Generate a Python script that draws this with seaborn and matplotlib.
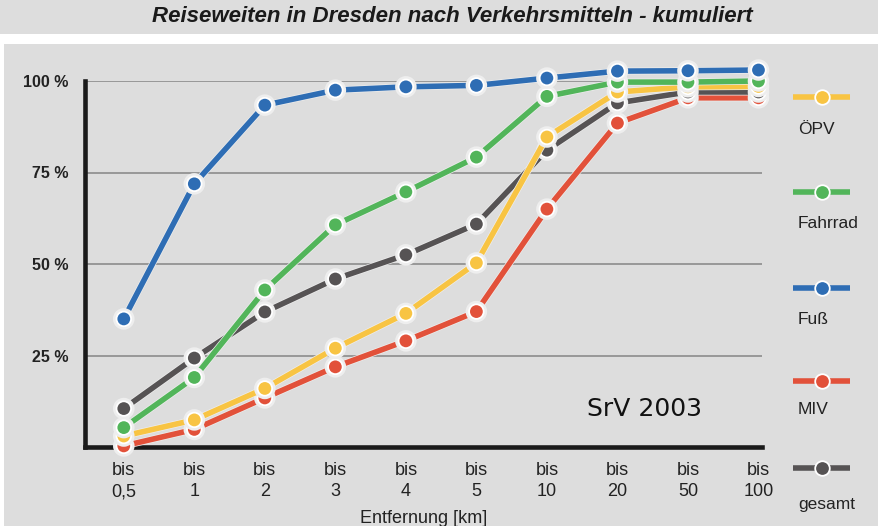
import numpy as np
import pandas as pd
import matplotlib
matplotlib.use("Agg")
import matplotlib.pyplot as plt
import seaborn as sns
from matplotlib.lines import Line2D
from matplotlib.patches import Rectangle
import matplotlib.patheffects as pe

# ---------------- data ----------------
distances = ["0,5", "1", "2", "3", "4", "5", "10", "20", "50", "100"]
oepv = [3.0, 7.4, 16.0, 27.0, 36.5, 50.3, 84.7, 97.0, 98.4, 98.5]
fahrrad = [5.3, 19.0, 42.9, 60.7, 69.7, 79.2, 95.8, 99.7, 99.7, 100.0]
fuss = [35.0, 71.9, 93.4, 97.5, 98.4, 98.8, 100.8, 102.7, 102.8, 103.0]
miv = [0.3, 4.8, 13.4, 21.9, 29.0, 37.0, 65.0, 88.5, 95.4, 95.4]
gesamt = [10.5, 24.3, 36.9, 45.9, 52.5, 60.9, 81.1, 94.0, 97.0, 97.0]

series_names = ["ÖPV", "Fahrrad", "Fuß", "MIV", "gesamt"]
series_values = [oepv, fahrrad, fuss, miv, gesamt]

y_ticks = [25, 50, 75, 100]
y_tick_labels = ["25 %", "50 %", "75 %", "100 %"]
title = "Reiseweiten in Dresden nach Verkehrsmitteln - kumuliert"
x_label = "Entfernung [km]"
note = "SrV 2003"

colors = {"ÖPV": "#f8c443", "Fahrrad": "#52b55a", "Fuß": "#2e6db4",
          "MIV": "#e2513a", "gesamt": "#565354"}
draw_order = ["MIV", "gesamt", "ÖPV", "Fahrrad", "Fuß"]

rows = []
for name, vals in zip(series_names, series_values):
    for d, v in zip(distances, vals):
        rows.append({"dist": d, "value": v, "mode": name})
df = pd.DataFrame(rows)

# ---------------- style ----------------
sns.set_style("white")
plt.rcParams["font.family"] = ["Liberation Sans", "DejaVu Sans"]

BG = "#dddddd"
W, H = 879, 526
fig = plt.figure(figsize=(W / 100, H / 100), dpi=100, facecolor=BG)

# white separator band and left strip
fig.patches.append(Rectangle((0, 1 - 44 / H), 1, 10 / H, transform=fig.transFigure,
                             facecolor="white", edgecolor="none", zorder=0))
fig.patches.append(Rectangle((0, 0), 4 / W, 1 - 44 / H, transform=fig.transFigure,
                             facecolor="white", edgecolor="none", zorder=0))

ax = fig.add_axes([85 / W, 79 / H, 677 / W, 366 / H])
ax.set_facecolor("none")

lw = 4.0
ms = 10.5
sns.lineplot(data=df, x="dist", y="value", hue="mode", hue_order=draw_order,
             palette=colors, marker="o", markersize=ms, markeredgecolor="white",
             markeredgewidth=1.3, linewidth=lw, ax=ax, legend=False, sort=False,
             clip_on=False, zorder=3, errorbar=None)
for line in ax.lines:
    line.set_path_effects([pe.Stroke(linewidth=lw + 1.0, foreground="#eeeeee"), pe.Normal()])

ax.set_xlim(-0.55, 9.05)
ax.set_ylim(0, 100)
ax.set_xticks(range(len(distances)))
ax.set_xticklabels(["bis\n" + d for d in distances], fontsize=13, color="#222222",
                   linespacing=1.3)
ax.set_yticks(y_ticks)
ax.set_yticklabels(y_tick_labels, fontsize=11.5, fontweight="bold", color="#222222")
ax.tick_params(axis="x", length=0, pad=11)
ax.tick_params(axis="y", length=9, width=2.2, color="#1a1a1a", pad=3)
ax.set_xlabel(x_label, fontsize=13, color="#222222", labelpad=7)
ax.set_ylabel("")

ax.yaxis.grid(True, color="#8c8c8c", linewidth=1.2)
ax.xaxis.grid(False)
ax.set_axisbelow(True)

for s in ["top", "right"]:
    ax.spines[s].set_visible(False)
for s in ["left", "bottom"]:
    ax.spines[s].set_linewidth(3.3)
    ax.spines[s].set_color("#1a1a1a")
ax.spines["left"].set_bounds(0, 100)

# title
fig.text(452 / W, 1 - 17 / H, title, ha="center", va="center", fontsize=16,
         fontweight="bold", fontstyle="italic",
         family=["Liberation Sans", "DejaVu Sans"], color="#1a1a1a")

# note
fig.text(587 / W, 1 - 409 / H, note, ha="left", va="center", fontsize=18,
         family=["DejaVu Sans"], color="#111111")

# legend (manual, label under handle)
legend_sample_y = [97, 192, 288, 381, 468]
legend_label_y = [130, 223, 320, 410, 505]
for name, sy, ly in zip(series_names, legend_sample_y, legend_label_y):
    c = colors[name]
    fig.add_artist(Line2D([793 / W, 850 / W], [1 - sy / H, 1 - sy / H],
                          transform=fig.transFigure, color=c, lw=lw,
                          solid_capstyle="butt"))
    fig.add_artist(Line2D([822 / W], [1 - sy / H], transform=fig.transFigure,
                          marker="o", markersize=ms, markerfacecolor=c,
                          markeredgecolor="white", markeredgewidth=1.3, lw=0))
    fig.text(798 / W, 1 - ly / H, name, ha="left", va="center", fontsize=12.5,
             color="#222222")

fig.savefig("out.png", dpi=100, facecolor=BG)
